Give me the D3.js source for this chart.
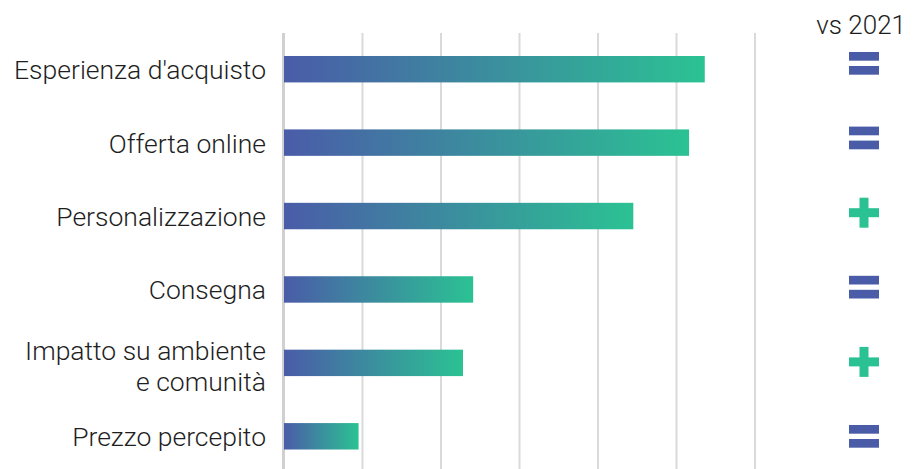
<!DOCTYPE html>
<html>
<head>
<meta charset="utf-8">
<script src="https://cdn.jsdelivr.net/npm/d3@7"></script>
<style>
  body { margin: 0; background: #fff; }
  svg text { font-family: Roboto, "Noto Sans", sans-serif; font-weight: 300; fill: #1e1e1e; }
</style>
</head>
<body>
<svg id="mysvg" width="920" height="469"></svg>
<script>
// values (gridline step = 10)
let categories = ["Esperienza d'acquisto", "Offerta online", "Personalizzazione", "Consegna", "Impatto su ambiente\ne comunità", "Prezzo percepito"];
let values = [53.6, 51.6, 44.5, 24.1, 22.8, 9.5];
let trend = ["=", "=", "+", "=", "+", "="];
let xTicks = [0, 10, 20, 30, 40, 50, 60];
let compareLabel = "vs 2021";

let blue = "#4a5ca8";
let green = "#2bc293";

let svg = d3.select('#mysvg');

let x = d3.scaleLinear().domain([0, 60]).range([284, 755]);
let y = d3.scaleBand().domain(categories).range([9, 496.5]).paddingInner(0.64).paddingOuter(0.64);
// icons sit on a slightly different rhythm than the bars
let yIcon = d3.scalePoint().domain(categories).range([63.5, 436.5]);

let rows = categories.map(function(c, i){ return {name:c, value:values[i], trend:trend[i]}; });

let defs = svg.append("defs");
let grad = defs.append("linearGradient").attr("id", "barGrad")
    .attr("x1", "0%").attr("x2", "100%").attr("y1", "0%").attr("y2", "0%");
grad.append("stop").attr("offset", "0%").attr("stop-color", blue);
grad.append("stop").attr("offset", "100%").attr("stop-color", green);

/* grid */
svg.append("g").selectAll("line")
    .data(xTicks)
    .enter()
    .append("line")
    .attr("x1", d => x(d) - (d == 0 ? 0.5 : 0))
    .attr("x2", d => x(d) - (d == 0 ? 0.5 : 0))
    .attr("y1", 33)
    .attr("y2", 469)
    .attr("stroke", d => d == 0 ? "#d0d0d0" : "#dadada")
    .attr("stroke-width", d => d == 0 ? 3 : 2);

/* bars */
svg.append("g").selectAll("rect")
    .data(rows)
    .enter()
    .append("rect")
    .attr("x", x(0))
    .attr("y", d => y(d.name))
    .attr("width", d => x(d.value) - x(0))
    .attr("height", y.bandwidth())
    .attr("fill", "url(#barGrad)");

/* category labels */
let labels = svg.append("g").selectAll("text")
    .data(rows)
    .enter()
    .append("text")
    .attr("text-anchor", "end")
    .attr("font-size", 26.5)
    .attr("dominant-baseline", "central");

labels.each(function(d){
    let lines = d.name.split("\n");
    let cy = y(d.name) + y.bandwidth() / 2;
    let lh = 31;
    let start = cy - (lines.length - 1) * lh / 2 + (lines.length > 1 ? 3 : 0);
    d3.select(this).selectAll("tspan")
        .data(lines)
        .enter()
        .append("tspan")
        .attr("x", 266)
        .attr("y", (l, j) => start + j * lh)
        .text(l => l);
});

/* header */
svg.append("text")
    .attr("x", 906)
    .attr("y", 34)
    .attr("text-anchor", "end")
    .attr("font-size", 26)
    .text(compareLabel);

/* trend icons */
let icons = svg.append("g").selectAll("g.icon")
    .data(rows)
    .enter()
    .append("g")
    .attr("class", "icon")
    .attr("transform", d => "translate(864, " + yIcon(d.name) + ")");

icons.filter(d => d.trend == "=").each(function(){
    let g = d3.select(this);
    g.append("rect").attr("x", -15).attr("y", -11.5).attr("width", 30).attr("height", 8.7).attr("fill", blue);
    g.append("rect").attr("x", -15).attr("y", 2.5).attr("width", 30).attr("height", 8.7).attr("fill", blue);
});

icons.filter(d => d.trend == "+").each(function(){
    let g = d3.select(this);
    g.append("rect").attr("x", -15).attr("y", -4.5).attr("width", 30).attr("height", 9).attr("fill", green);
    g.append("rect").attr("x", -4.5).attr("y", -15).attr("width", 9).attr("height", 30).attr("fill", green);
});
</script>
</body>
</html>
